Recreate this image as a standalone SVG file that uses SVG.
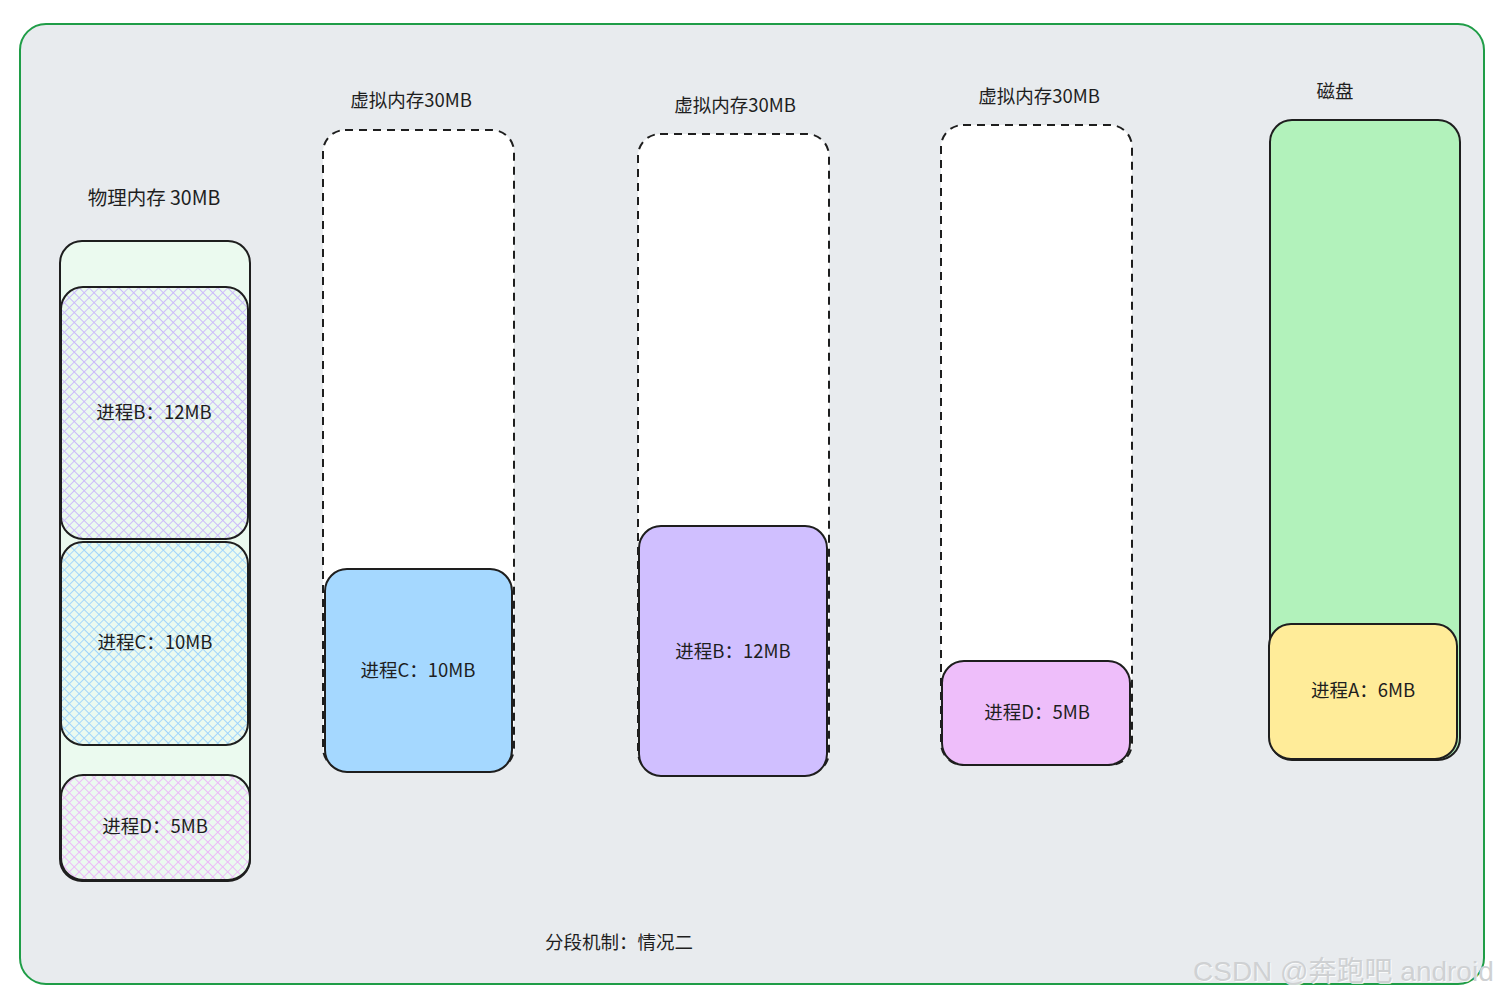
<svg xmlns="http://www.w3.org/2000/svg" width="1502" height="998" viewBox="0 0 1502 998">
<style>
  .t { font-family: "Noto Sans CJK SC", "Noto Sans", sans-serif; font-size: 18.5px; fill: #1e1e1e; text-anchor: middle; dominant-baseline: central; }
  .box { stroke: #1e1e1e; stroke-width: 2; }
  .dash { fill: #ffffff; stroke: #1e1e1e; stroke-width: 2; stroke-dasharray: 8 6; }
</style>
<defs>
  <pattern id="hB" width="7" height="7" patternUnits="userSpaceOnUse" patternTransform="rotate(45)">
    <rect width="7" height="7" fill="#ebfaef"/>
    <path d="M0 0V7M0 0H7" stroke="#cbb8fb" stroke-width="1.8"/>
  </pattern>
  <pattern id="hC" width="7" height="7" patternUnits="userSpaceOnUse" patternTransform="rotate(45)">
    <rect width="7" height="7" fill="#ebfaef"/>
    <path d="M0 0V7M0 0H7" stroke="#9fd4fc" stroke-width="1.8"/>
  </pattern>
  <pattern id="hD" width="7" height="7" patternUnits="userSpaceOnUse" patternTransform="rotate(45)">
    <rect width="7" height="7" fill="#ebfaef"/>
    <path d="M0 0V7M0 0H7" stroke="#ecb8f8" stroke-width="1.8"/>
  </pattern>
</defs>

<g id="frame">
  <rect x="20" y="24" width="1464" height="960" rx="26" fill="#e8ebee" stroke="#1f9d47" stroke-width="2"/>
</g>

<g id="physical">
  <text class="t" x="154" y="196" style="font-size:19.5px">物理内存 30MB</text>
  <rect class="box" x="60" y="241" width="190" height="640" rx="22" fill="#ebfaef"/>
</g>
<g id="phys-b">
  <rect class="box" x="61" y="287" width="187" height="252" rx="22" fill="url(#hB)"/>
  <text class="t" x="154" y="411">进程B：12MB</text>
</g>
<g id="phys-c">
  <rect class="box" x="61" y="542" width="187" height="203" rx="22" fill="url(#hC)"/>
  <text class="t" x="155" y="641">进程C：10MB</text>
</g>
<g id="phys-d">
  <rect class="box" x="61" y="775" width="189" height="105" rx="22" fill="url(#hD)"/>
  <text class="t" x="155" y="825">进程D：5MB</text>
</g>

<g id="virt1">
  <text class="t" x="411" y="99">虚拟内存30MB</text>
  <rect class="dash" x="323" y="130" width="191" height="640" rx="22"/>
</g>
<g id="virt1-c">
  <rect class="box" x="325" y="569" width="187" height="203" rx="22" fill="#a5d8ff"/>
  <text class="t" x="418" y="669">进程C：10MB</text>
</g>

<g id="virt2">
  <text class="t" x="735" y="104">虚拟内存30MB</text>
  <rect class="dash" x="638" y="134" width="191" height="640" rx="22"/>
</g>
<g id="virt2-b">
  <rect class="box" x="639" y="526" width="188" height="250" rx="22" fill="#d0bfff"/>
  <text class="t" x="733" y="650">进程B：12MB</text>
</g>

<g id="virt3">
  <text class="t" x="1039" y="95">虚拟内存30MB</text>
  <rect class="dash" x="941" y="125" width="191" height="640" rx="22"/>
</g>
<g id="virt3-d">
  <rect class="box" x="942" y="661" width="188" height="104" rx="22" fill="#eebefa"/>
  <text class="t" x="1037" y="711">进程D：5MB</text>
</g>

<g id="disk">
  <text class="t" x="1335" y="90">磁盘</text>
  <rect class="box" x="1270" y="120" width="190" height="640" rx="22" fill="#b2f2bb"/>
</g>
<g id="disk-a">
  <rect class="box" x="1269" y="624" width="188" height="135" rx="22" fill="#ffec99"/>
  <text class="t" x="1363" y="689">进程A：6MB</text>
</g>

<g id="caption">
  <text class="t" x="619" y="941">分段机制：情况二</text>
</g>

<g id="watermark">
  <text x="1194" y="982" font-family="Liberation Sans, Noto Sans CJK SC, sans-serif" font-size="28" fill="#ffffff" opacity="0.8">CSDN @奔跑吧 android</text>
  <text x="1193" y="981" font-family="Liberation Sans, Noto Sans CJK SC, sans-serif" font-size="28" fill="#cfd1d3">CSDN @奔跑吧 android</text>
</g>

<g id="connectors"></g>
</svg>
